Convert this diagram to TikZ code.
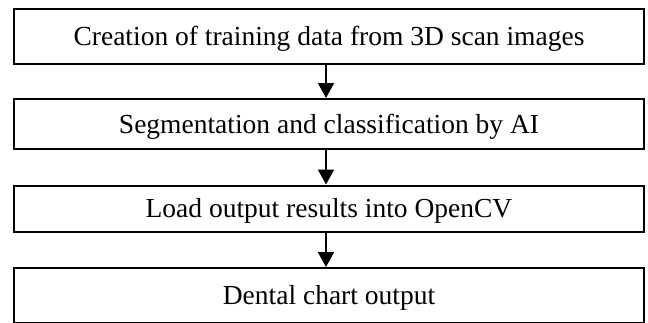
\documentclass[tikz,border=0pt]{standalone}
\usepackage{fontspec}
\setmainfont{Liberation Serif}
\usetikzlibrary{arrows.meta}
\begin{document}
\begin{tikzpicture}[x=1pt,y=-1pt,
  stepbox/.style={draw=black,line width=2pt,minimum width=630pt,anchor=north west,inner sep=0pt,
    font=\fontsize{27.5pt}{30pt}\selectfont,text height=18.3pt,text depth=0pt},
  arr/.style={line width=2pt,-{Triangle[width=16pt,length=15pt]}}]
\useasboundingbox (0,0) rectangle (648,322);
\node[stepbox,minimum height=55.5pt] (b1) at (13,7.5) {Creation of training data from 3D scan images};
\node[stepbox,minimum height=50pt] (b2) at (13,98) {Segmentation and classification by AI};
\node[stepbox,minimum height=46.5pt] (b3) at (13,184.5) {Load output results into OpenCV};
\node[stepbox,minimum height=55pt] (b4) at (13,267) {Dental chart output};
\coordinate (ax) at (326,0);
\draw[arr] (b1.south -| ax) -- (b2.north -| ax);
\draw[arr] (b2.south -| ax) -- (b3.north -| ax);
\draw[arr] (b3.south -| ax) -- (b4.north -| ax);
\end{tikzpicture}
\end{document}
